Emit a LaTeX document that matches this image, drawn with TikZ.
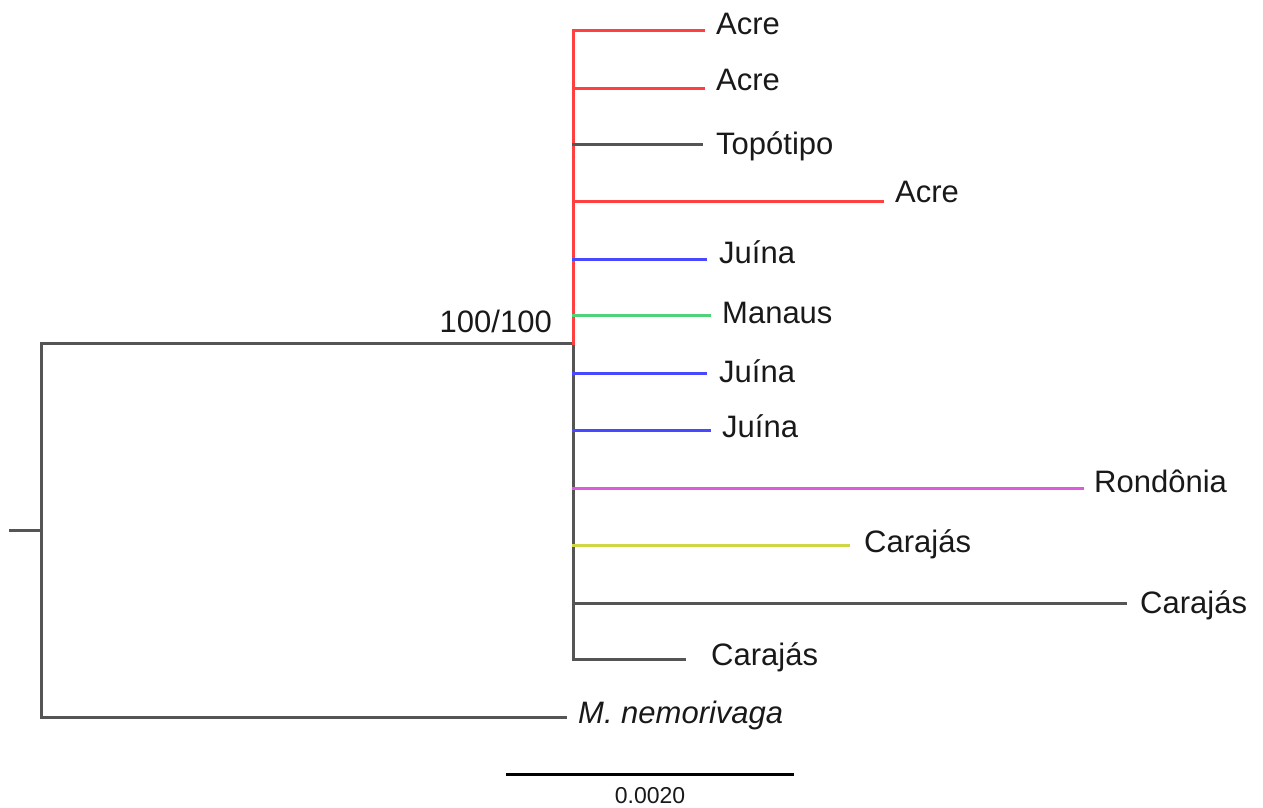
\documentclass[tikz,border=0pt]{standalone}
\usepackage{fontspec}
\setmainfont{Liberation Sans}
\begin{document}
\definecolor{brRed}{RGB}{255,64,64}
\definecolor{brBlue}{RGB}{72,72,255}
\definecolor{brGreen}{RGB}{80,210,120}
\definecolor{brMagenta}{RGB}{220,90,220}
\definecolor{brYellow}{RGB}{205,215,70}
\definecolor{brGray}{RGB}{85,85,85}
\definecolor{txt}{RGB}{25,25,25}
\begin{tikzpicture}[x=1pt,y=-1pt,
  branch/.style={line width=3pt,line cap=rect,color=brGray},
  taxon/.style={anchor=base west,inner sep=0pt,text=txt,font=\fontsize{31}{37}\selectfont},
  support/.style={anchor=base east,inner sep=0pt,text=txt,font=\fontsize{31}{37}\selectfont},
  scalebar/.style={line width=3pt,black}]
\useasboundingbox (0,0) rectangle (1263,807);

% internal nodes
\coordinate (root) at (10,530);
\coordinate (rootv) at (41,530);
\coordinate (clade) at (573,343);

% tips (branch ends)
\coordinate (t1) at (703,30);
\coordinate (t2) at (703,88);
\coordinate (t3) at (701,144);
\coordinate (t4) at (882,201);
\coordinate (t5) at (705,259);
\coordinate (t6) at (709,315);
\coordinate (t7) at (705,373);
\coordinate (t8) at (709,430);
\coordinate (t9) at (1082,488);
\coordinate (t10) at (848,545);
\coordinate (t11) at (1125,603);
\coordinate (t12) at (684,659);
\coordinate (tout) at (565,717);

% labels
\node[taxon] (l1) at (716,34) {Acre};
\node[taxon] (l2) at (716,90) {Acre};
\node[taxon] (l3) at (716,154) {Topótipo};
\node[taxon] (l4) at (895,202) {Acre};
\node[taxon] (l5) at (719,263) {Juína};
\node[taxon] (l6) at (722,323) {Manaus};
\node[taxon] (l7) at (719,382) {Juína};
\node[taxon] (l8) at (722,437) {Juína};
\node[taxon] (l9) at (1094,492) {Rondônia};
\node[taxon] (l10) at (864,552) {Carajás};
\node[taxon] (l11) at (1140,613) {Carajás};
\node[taxon] (l12) at (711,665) {Carajás};
\node[taxon,font=\fontsize{31}{37}\selectfont\itshape] (lout) at (578,723) {M. nemorivaga};
\node[support] (bs) at (552,332) {100/100};

% root and outgroup
\draw[branch] (root) -- (rootv);
\draw[branch] (rootv |- clade) -- (rootv |- tout);
\draw[branch] (rootv |- clade) -- (clade);
\draw[branch] (rootv |- tout) -- (tout);

% clade backbone
\draw[branch] (clade) -- (clade |- t12);
\draw[branch,brRed] (clade |- t1) -- (clade);

% terminal branches
\draw[branch,brRed] (clade |- t1) -- (t1);
\draw[branch,brRed] (clade |- t2) -- (t2);
\draw[branch] (clade |- t3) -- (t3);
\draw[branch,brRed] (clade |- t4) -- (t4);
\draw[branch,brBlue] (clade |- t5) -- (t5);
\draw[branch,brGreen] (clade |- t6) -- (t6);
\draw[branch,brBlue] (clade |- t7) -- (t7);
\draw[branch,brBlue] (clade |- t8) -- (t8);
\draw[branch,brMagenta] (clade |- t9) -- (t9);
\draw[branch,brYellow] (clade |- t10) -- (t10);
\draw[branch] (clade |- t11) -- (t11);
\draw[branch] (clade |- t12) -- (t12);

% scale bar
\coordinate (sb1) at (506,774);
\coordinate (sb2) at (794,774);
\draw[scalebar] (sb1) -- (sb2);
\node[anchor=base,inner sep=0pt,text=txt,font=\fontsize{23}{28}\selectfont] (sbl) at (650,803) {0.0020};
\end{tikzpicture}
\end{document}
